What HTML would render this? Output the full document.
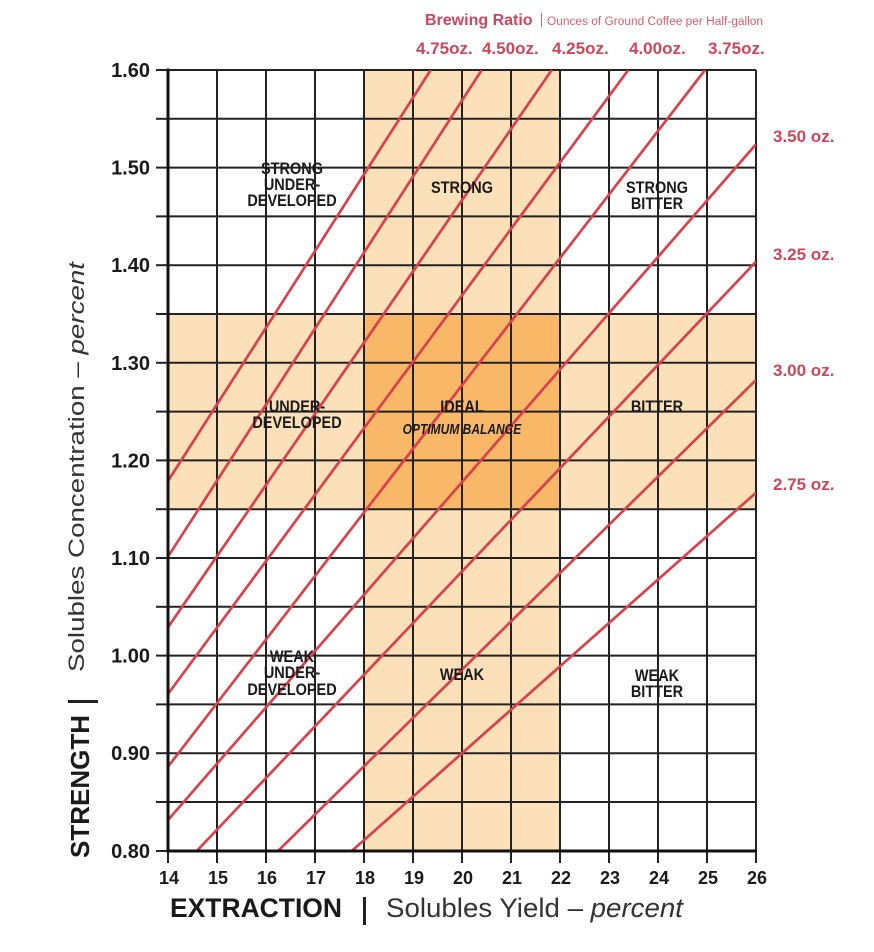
<!DOCTYPE html>
<html><head><meta charset="utf-8"><style>
html,body{margin:0;padding:0;background:#fff;}
svg{display:block;}
text{font-family:"Liberation Sans",sans-serif;}
</style></head><body>
<svg width="874" height="952" viewBox="0 0 874 952" xmlns="http://www.w3.org/2000/svg">
<defs><clipPath id="pc"><rect x="168" y="70" width="588" height="781"/></clipPath></defs>
<rect width="874" height="952" fill="#fff"/>
<!-- bands -->
<rect x="364" y="70" width="196" height="781" fill="#FCE0BA"/>
<rect x="168" y="314" width="588" height="195.2" fill="#FCE0BA"/>
<rect x="364" y="314" width="196" height="195.2" fill="#F9B868"/>
<!-- grid -->
<g stroke="#222" stroke-width="2">
<line x1="217" y1="70" x2="217" y2="851"/><line x1="266" y1="70" x2="266" y2="851"/><line x1="315" y1="70" x2="315" y2="851"/><line x1="364" y1="70" x2="364" y2="851"/><line x1="413" y1="70" x2="413" y2="851"/><line x1="462" y1="70" x2="462" y2="851"/><line x1="511" y1="70" x2="511" y2="851"/><line x1="560" y1="70" x2="560" y2="851"/><line x1="609" y1="70" x2="609" y2="851"/><line x1="658" y1="70" x2="658" y2="851"/><line x1="707" y1="70" x2="707" y2="851"/><line x1="756" y1="70" x2="756" y2="851"/>
<line x1="168" y1="70" x2="756" y2="70"/><line x1="168" y1="118.8" x2="756" y2="118.8"/><line x1="168" y1="167.6" x2="756" y2="167.6"/><line x1="168" y1="216.4" x2="756" y2="216.4"/><line x1="168" y1="265.2" x2="756" y2="265.2"/><line x1="168" y1="314" x2="756" y2="314"/><line x1="168" y1="362.8" x2="756" y2="362.8"/><line x1="168" y1="411.6" x2="756" y2="411.6"/><line x1="168" y1="460.4" x2="756" y2="460.4"/><line x1="168" y1="509.2" x2="756" y2="509.2"/><line x1="168" y1="558" x2="756" y2="558"/><line x1="168" y1="606.8" x2="756" y2="606.8"/><line x1="168" y1="655.6" x2="756" y2="655.6"/><line x1="168" y1="704.4" x2="756" y2="704.4"/><line x1="168" y1="753.2" x2="756" y2="753.2"/><line x1="168" y1="802" x2="756" y2="802"/>
</g>
<!-- ticks -->
<g stroke="#222" stroke-width="2">
<line x1="156" y1="70" x2="168" y2="70"/><line x1="156" y1="118.8" x2="168" y2="118.8"/><line x1="156" y1="167.6" x2="168" y2="167.6"/><line x1="156" y1="216.4" x2="168" y2="216.4"/><line x1="156" y1="265.2" x2="168" y2="265.2"/><line x1="156" y1="314" x2="168" y2="314"/><line x1="156" y1="362.8" x2="168" y2="362.8"/><line x1="156" y1="411.6" x2="168" y2="411.6"/><line x1="156" y1="460.4" x2="168" y2="460.4"/><line x1="156" y1="509.2" x2="168" y2="509.2"/><line x1="156" y1="558" x2="168" y2="558"/><line x1="156" y1="606.8" x2="168" y2="606.8"/><line x1="156" y1="655.6" x2="168" y2="655.6"/><line x1="156" y1="704.4" x2="168" y2="704.4"/><line x1="156" y1="753.2" x2="168" y2="753.2"/><line x1="156" y1="802" x2="168" y2="802"/><line x1="156" y1="851" x2="168" y2="851"/>
<line x1="168" y1="851" x2="168" y2="863"/><line x1="217" y1="851" x2="217" y2="863"/><line x1="266" y1="851" x2="266" y2="863"/><line x1="315" y1="851" x2="315" y2="863"/><line x1="364" y1="851" x2="364" y2="863"/><line x1="413" y1="851" x2="413" y2="863"/><line x1="462" y1="851" x2="462" y2="863"/><line x1="511" y1="851" x2="511" y2="863"/><line x1="560" y1="851" x2="560" y2="863"/><line x1="609" y1="851" x2="609" y2="863"/><line x1="658" y1="851" x2="658" y2="863"/><line x1="707" y1="851" x2="707" y2="863"/><line x1="756" y1="851" x2="756" y2="863"/>
</g>
<!-- red ratio lines -->
<g clip-path="url(#pc)" stroke="#D9414D" stroke-width="2.7" fill="none">
<line x1="168" y1="481" x2="430.7" y2="70"/>
<line x1="168" y1="556.7" x2="481.7" y2="70"/>
<line x1="168" y1="627.3" x2="551.7" y2="70"/>
<line x1="168" y1="694" x2="628.3" y2="70"/>
<line x1="168" y1="766.7" x2="705" y2="70"/>
<line x1="168" y1="820" x2="756" y2="144.3"/>
<line x1="196.7" y1="851" x2="756" y2="261.7"/>
<line x1="278" y1="851" x2="756" y2="380"/>
<line x1="351.7" y1="851" x2="756" y2="492.7"/>
</g>
<!-- axes -->
<line x1="168" y1="68.5" x2="168" y2="852.5" stroke="#111" stroke-width="3"/>
<line x1="166.5" y1="851" x2="757" y2="851" stroke="#111" stroke-width="3"/>
<!-- y tick labels -->
<g font-size="20" font-weight="bold" fill="#1a1a1a" text-anchor="end">
<text x="150" y="77">1.60</text><text x="150" y="174.6">1.50</text><text x="150" y="272.2">1.40</text><text x="150" y="369.8">1.30</text><text x="150" y="467.4">1.20</text><text x="150" y="565">1.10</text><text x="150" y="662.6">1.00</text><text x="150" y="760.2">0.90</text><text x="150" y="858">0.80</text>
</g>
<!-- x tick labels -->
<g font-size="18" font-weight="bold" fill="#1a1a1a" text-anchor="middle">
<text x="169" y="884">14</text><text x="218" y="884">15</text><text x="267" y="884">16</text><text x="316" y="884">17</text><text x="365" y="884">18</text><text x="414" y="884">19</text><text x="463" y="884">20</text><text x="512" y="884">21</text><text x="561" y="884">22</text><text x="610" y="884">23</text><text x="659" y="884">24</text><text x="708" y="884">25</text><text x="757" y="884">26</text>
</g>
<!-- x title -->
<text x="170" y="917" font-size="27" font-weight="bold" fill="#1a1a1a" textLength="172" lengthAdjust="spacingAndGlyphs">EXTRACTION</text>
<rect x="363" y="897" width="3" height="28" fill="#222"/>
<text x="386" y="917" font-size="27" fill="#333" textLength="297" lengthAdjust="spacingAndGlyphs">Solubles Yield – <tspan font-style="italic">percent</tspan></text>
<!-- y title -->
<g transform="translate(89,858) rotate(-90)">
<text x="0" y="0" font-size="26" font-weight="bold" fill="#1a1a1a" textLength="143" lengthAdjust="spacingAndGlyphs">STRENGTH</text>
</g>
<rect x="68" y="700" width="30" height="3" fill="#222"/>
<g transform="translate(84,672) rotate(-90) scale(1,0.78)">
<text x="0" y="0" font-size="28" fill="#333" textLength="410" lengthAdjust="spacingAndGlyphs">Solubles Concentration – <tspan font-style="italic">percent</tspan></text>
</g>
<!-- top header -->
<text x="425" y="25" font-size="16" font-weight="bold" fill="#D0455A">Brewing Ratio</text>
<rect x="541" y="13" width="1" height="14" fill="#D66070"/>
<text x="547" y="25" font-size="11.5" fill="#D66070" textLength="216" lengthAdjust="spacingAndGlyphs">Ounces of Ground Coffee per Half-gallon</text>
<g font-size="17" font-weight="bold" fill="#D0455A">
<text x="416" y="54">4.75oz.</text><text x="482" y="54">4.50oz.</text><text x="552" y="54">4.25oz.</text><text x="629" y="54">4.00oz.</text><text x="708" y="54">3.75oz.</text>
<text x="773" y="142">3.50 oz.</text><text x="773" y="260">3.25 oz.</text><text x="773" y="376">3.00 oz.</text><text x="773" y="490">2.75 oz.</text>
</g>
<!-- region labels -->
<g font-size="14.5" font-weight="bold" fill="#1a1a1a" text-anchor="middle">
<text transform="translate(292,174) scale(1,1.15)">STRONG</text>
<text transform="translate(292,190) scale(1,1.15)">UNDER-</text>
<text transform="translate(292,206) scale(1,1.15)">DEVELOPED</text>
<text transform="translate(462,193) scale(1,1.15)">STRONG</text>
<text transform="translate(657,193) scale(1,1.15)">STRONG</text>
<text transform="translate(657,209) scale(1,1.15)">BITTER</text>
<text transform="translate(297,412) scale(1,1.15)">UNDER-</text>
<text transform="translate(297,428) scale(1,1.15)">DEVELOPED</text>
<text transform="translate(462,412) scale(1,1.15)">IDEAL</text>
<text transform="translate(657,412) scale(1,1.15)">BITTER</text>
<text transform="translate(292,662) scale(1,1.15)">WEAK</text>
<text transform="translate(292,678) scale(1,1.15)">UNDER-</text>
<text transform="translate(292,695) scale(1,1.15)">DEVELOPED</text>
<text transform="translate(462,680) scale(1,1.15)">WEAK</text>
<text transform="translate(657,681) scale(1,1.15)">WEAK</text>
<text transform="translate(657,697) scale(1,1.15)">BITTER</text>
</g>
<text transform="translate(462,434) scale(1,1.2)" font-size="12" font-weight="bold" font-style="italic" fill="#1a1a1a" text-anchor="middle">OPTIMUM BALANCE</text>
</svg>
</body></html>
